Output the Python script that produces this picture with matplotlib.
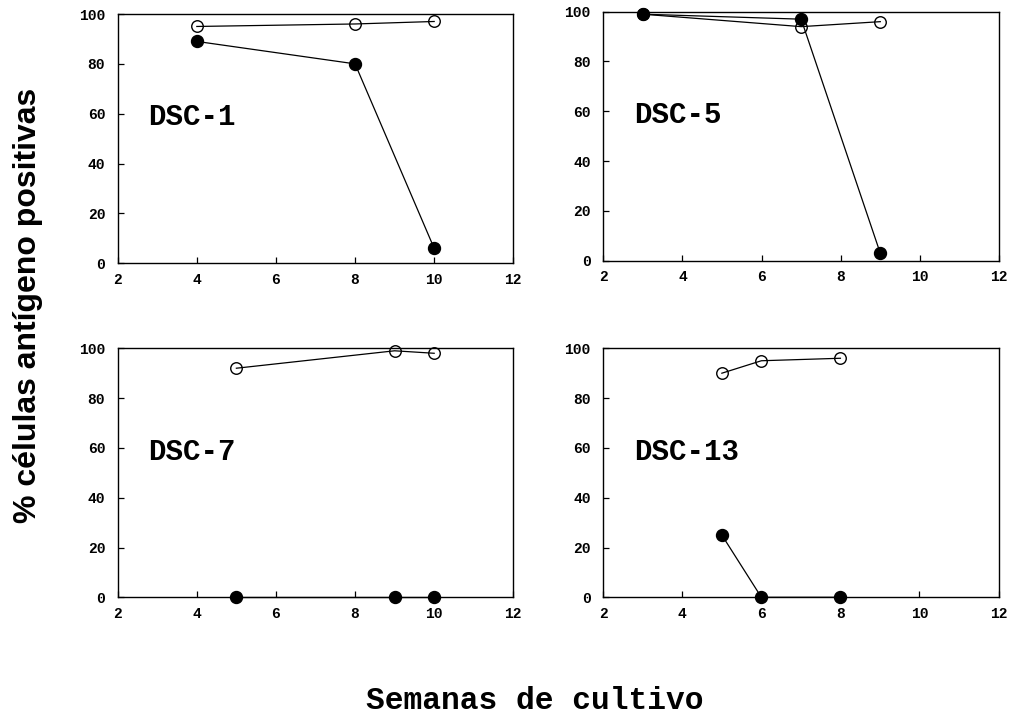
import matplotlib
matplotlib.use("Agg")
import matplotlib.pyplot as plt

# Data
panel_names = ["DSC-1", "DSC-5", "DSC-7", "DSC-13"]
open_x = [[4, 8, 10], [3, 7, 9], [5, 9, 10], [5, 6, 8]]
open_y = [[95, 96, 97], [99, 94, 96], [92, 99, 98], [90, 95, 96]]
filled_x = [[4, 8, 10], [3, 7, 9], [5, 9, 10], [5, 6, 8]]
filled_y = [[89, 80, 6], [99, 97, 3], [0, 0, 0], [25, 0, 0]]
x_ticks = [2, 4, 6, 8, 10, 12]
y_ticks = [0, 20, 40, 60, 80, 100]
x_label = "Semanas de cultivo"
y_label = "% células antígeno positivas"

W, H = 1011, 717
fig = plt.figure(figsize=(W / 100, H / 100), dpi=100)

# axes rects in pixels: left, top, right, bottom
rects = [
    (117.7, 14.0, 513.3, 263.3),
    (603.3, 11.7, 999.0, 260.7),
    (117.7, 348.3, 513.3, 597.3),
    (603.3, 348.3, 998.5, 597.3),
]

mono = "Liberation Mono"
for i, (l, t, r, b) in enumerate(rects):
    ax = fig.add_axes([l / W, 1 - b / H, (r - l) / W, (b - t) / H])
    ax.plot(open_x[i], open_y[i], color="black", lw=0.9, marker="o",
            markersize=8.3, markerfacecolor="none", markeredgecolor="black",
            markeredgewidth=1.0, clip_on=False, zorder=3)
    ax.plot(filled_x[i], filled_y[i], color="black", lw=0.9, marker="o",
            markersize=8.6, markerfacecolor="black", markeredgecolor="black",
            clip_on=False, zorder=4)
    ax.set_xlim(2, 12)
    ax.set_ylim(0, 100)
    ax.set_xticks(x_ticks)
    ax.set_yticks(y_ticks)
    ax.tick_params(direction="in", length=4.5, width=0.9, labelsize=10.5)
    ax.tick_params(axis="x", pad=7)
    ax.tick_params(axis="y", pad=9)
    for lab in ax.get_xticklabels() + ax.get_yticklabels():
        lab.set_fontfamily(mono)
        lab.set_fontweight("bold")
    for sp in ax.spines.values():
        sp.set_linewidth(1.0)
    ax.text(2.77, 58.5, panel_names[i], fontsize=21, fontfamily=mono,
            fontweight="bold", va="center", ha="left")

fig.text(535 / W, 1 - 701 / H, x_label, fontsize=22.5, fontfamily=mono,
         fontweight="bold", ha="center", va="center")
fig.text(28 / W, 1 - 305 / H, y_label, fontsize=23, fontfamily="Liberation Sans",
         fontweight="bold", ha="center", va="center", rotation=90)

fig.savefig("out.png", dpi=100)
